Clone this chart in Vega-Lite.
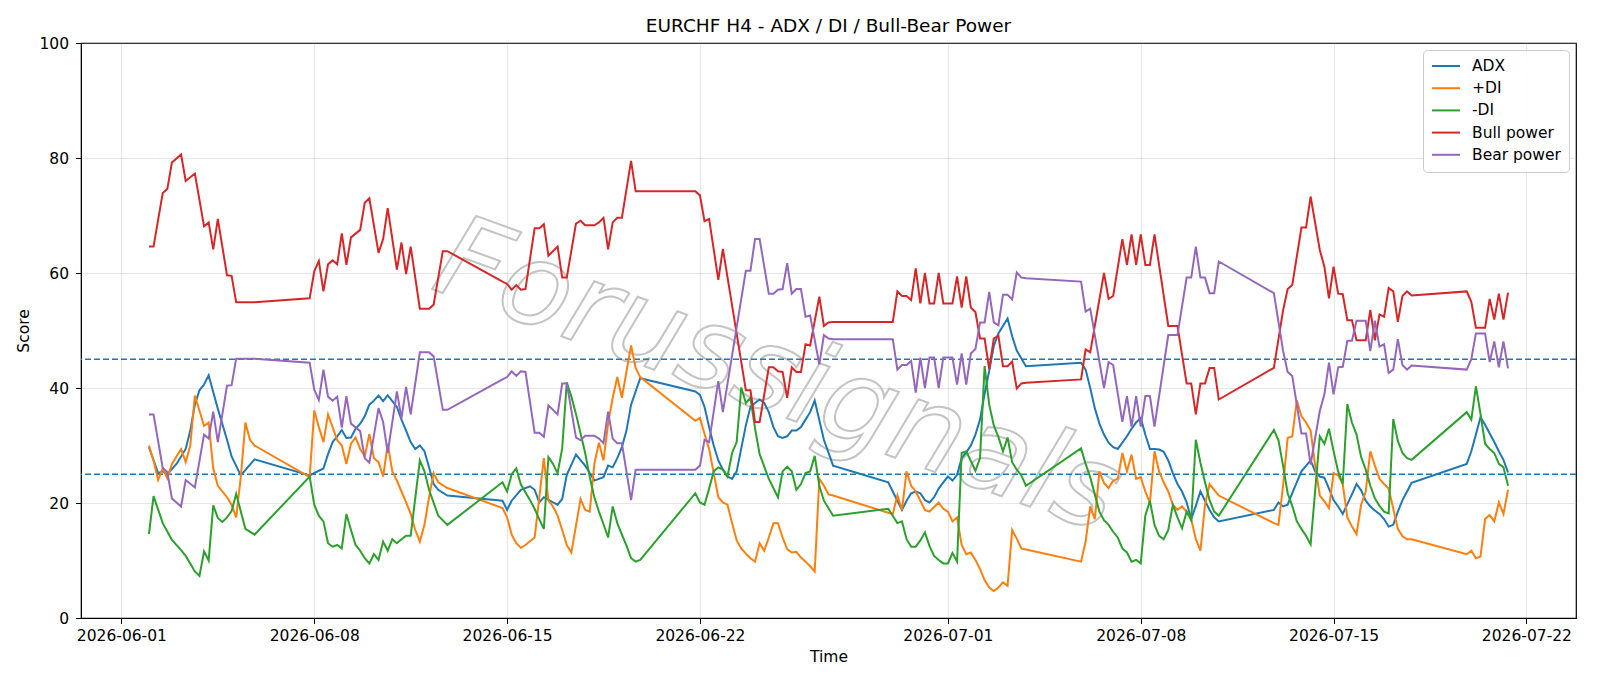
{
"$schema": "https://vega.github.io/schema/vega-lite/v6.json",
"width": 1495, "height": 575,
"autosize": {"type": "none"},
"padding": {"left": 81, "top": 43, "right": 24, "bottom": 68},
"background": "white",
"title": {"text": "EURCHF H4 - ADX / DI / Bull-Bear Power", "fontSize": 18.5, "font": "DejaVu Sans", "fontWeight": "normal", "color": "black", "offset": 1, "anchor": "middle"},
"config": {
 "font": "DejaVu Sans",
 "view": {"stroke": "black", "strokeWidth": 1.2},
 "axis": {"labelFont": "DejaVu Sans", "labelFontSize": 15.5, "labelColor": "black", "titleFont": "DejaVu Sans", "titleFontSize": 15.5, "titleFontWeight": "normal", "titleColor": "black", "tickColor": "black", "tickSize": 5.5, "domainColor": "black", "gridColor": "#b0b0b0", "gridOpacity": 0.3, "gridWidth": 1.2},
 "legend": {"orient": "top-right", "offset": 7, "fillColor": "rgba(255,255,255,0.85)", "strokeColor": "#cccccc", "cornerRadius": 4, "padding": 8, "symbolType": "M-1,0H3", "symbolSize": 196, "symbolStrokeWidth": 2, "labelFont": "DejaVu Sans", "labelFontSize": 15.5, "labelColor": "black", "labelOffset": 25, "rowPadding": 5.2}
},
"datasets": {
"adx": [
{"t":"2026-06-02T00:00","v":29.7},{"t":"2026-06-02T08:00","v":25.2},{"t":"2026-06-02T12:00","v":25.5},{"t":"2026-06-02T16:00","v":25.0},{"t":"2026-06-03T00:00","v":26.8},{"t":"2026-06-03T08:00","v":29.4},{"t":"2026-06-03T12:00","v":32.6},{"t":"2026-06-03T16:00","v":37.1},{"t":"2026-06-03T20:00","v":39.6},{"t":"2026-06-04T00:00","v":40.6},{"t":"2026-06-04T04:00","v":42.2},{"t":"2026-06-04T12:00","v":36.4},{"t":"2026-06-04T20:00","v":31.0},{"t":"2026-06-05T00:00","v":28.1},{"t":"2026-06-05T08:00","v":24.8},{"t":"2026-06-05T20:00","v":27.6},
{"t":"2026-06-07T20:00","v":24.8},{"t":"2026-06-08T08:00","v":26.0},{"t":"2026-06-08T12:00","v":28.5},{"t":"2026-06-08T16:00","v":30.6},{"t":"2026-06-08T20:00","v":31.6},{"t":"2026-06-09T00:00","v":32.7},{"t":"2026-06-09T04:00","v":31.3},{"t":"2026-06-09T08:00","v":31.4},{"t":"2026-06-09T12:00","v":32.9},{"t":"2026-06-09T16:00","v":33.8},{"t":"2026-06-09T20:00","v":35.1},{"t":"2026-06-10T00:00","v":37.1},{"t":"2026-06-10T04:00","v":37.8},{"t":"2026-06-10T08:00","v":38.7},{"t":"2026-06-10T12:00","v":37.7},{"t":"2026-06-10T16:00","v":38.7},{"t":"2026-06-10T20:00","v":37.7},{"t":"2026-06-11T00:00","v":36.7},{"t":"2026-06-11T04:00","v":34.5},{"t":"2026-06-11T08:00","v":32.6},{"t":"2026-06-11T12:00","v":30.6},{"t":"2026-06-11T16:00","v":29.4},{"t":"2026-06-11T20:00","v":30.0},{"t":"2026-06-12T00:00","v":29.0},{"t":"2026-06-12T04:00","v":26.2},{"t":"2026-06-12T08:00","v":23.3},{"t":"2026-06-12T12:00","v":22.3},{"t":"2026-06-12T20:00","v":21.3},
{"t":"2026-06-14T20:00","v":20.4},{"t":"2026-06-15T00:00","v":18.8},{"t":"2026-06-15T04:00","v":20.4},{"t":"2026-06-15T12:00","v":22.3},{"t":"2026-06-15T20:00","v":22.9},{"t":"2026-06-16T00:00","v":22.3},{"t":"2026-06-16T04:00","v":20.1},{"t":"2026-06-16T08:00","v":21.0},{"t":"2026-06-16T16:00","v":20.1},{"t":"2026-06-16T20:00","v":19.7},{"t":"2026-06-17T00:00","v":20.7},{"t":"2026-06-17T04:00","v":24.9},{"t":"2026-06-17T12:00","v":28.4},{"t":"2026-06-17T20:00","v":26.5},{"t":"2026-06-18T00:00","v":25.2},{"t":"2026-06-18T04:00","v":23.9},{"t":"2026-06-18T08:00","v":24.2},{"t":"2026-06-18T12:00","v":24.5},{"t":"2026-06-18T16:00","v":26.5},{"t":"2026-06-18T20:00","v":26.2},{"t":"2026-06-19T00:00","v":27.8},{"t":"2026-06-19T04:00","v":29.7},{"t":"2026-06-19T08:00","v":32.6},{"t":"2026-06-19T12:00","v":37.1},{"t":"2026-06-19T20:00","v":41.7},
{"t":"2026-06-21T20:00","v":39.4},{"t":"2026-06-22T00:00","v":38.8},{"t":"2026-06-22T04:00","v":36.7},{"t":"2026-06-22T08:00","v":33.2},{"t":"2026-06-22T12:00","v":30.0},{"t":"2026-06-22T16:00","v":27.4},{"t":"2026-06-22T20:00","v":25.8},{"t":"2026-06-23T00:00","v":24.6},{"t":"2026-06-23T04:00","v":24.2},{"t":"2026-06-23T08:00","v":25.5},{"t":"2026-06-23T12:00","v":29.5},{"t":"2026-06-23T16:00","v":33.5},{"t":"2026-06-23T20:00","v":36.7},{"t":"2026-06-24T00:00","v":37.4},{"t":"2026-06-24T04:00","v":38.0},{"t":"2026-06-24T08:00","v":37.4},{"t":"2026-06-24T12:00","v":35.8},{"t":"2026-06-24T16:00","v":33.2},{"t":"2026-06-24T20:00","v":31.6},{"t":"2026-06-25T00:00","v":31.3},{"t":"2026-06-25T04:00","v":31.6},{"t":"2026-06-25T08:00","v":32.6},{"t":"2026-06-25T12:00","v":32.6},{"t":"2026-06-25T16:00","v":33.2},{"t":"2026-06-25T20:00","v":34.5},{"t":"2026-06-26T00:00","v":35.8},{"t":"2026-06-26T04:00","v":37.8},{"t":"2026-06-26T12:00","v":31.0},{"t":"2026-06-26T20:00","v":26.5},
{"t":"2026-06-28T20:00","v":23.6},{"t":"2026-06-29T00:00","v":22.0},{"t":"2026-06-29T04:00","v":20.4},{"t":"2026-06-29T08:00","v":18.8},{"t":"2026-06-29T12:00","v":20.4},{"t":"2026-06-29T16:00","v":21.7},{"t":"2026-06-29T20:00","v":22.0},{"t":"2026-06-30T00:00","v":21.7},{"t":"2026-06-30T04:00","v":20.5},{"t":"2026-06-30T08:00","v":20.1},{"t":"2026-06-30T12:00","v":21.0},{"t":"2026-06-30T16:00","v":22.5},{"t":"2026-06-30T20:00","v":23.6},{"t":"2026-07-01T00:00","v":24.6},{"t":"2026-07-01T04:00","v":23.9},{"t":"2026-07-01T08:00","v":24.9},{"t":"2026-07-01T12:00","v":27.8},{"t":"2026-07-01T16:00","v":28.8},{"t":"2026-07-01T20:00","v":30.0},{"t":"2026-07-02T00:00","v":31.9},{"t":"2026-07-02T04:00","v":34.5},{"t":"2026-07-02T08:00","v":39.0},{"t":"2026-07-02T12:00","v":43.0},{"t":"2026-07-02T16:00","v":47.3},{"t":"2026-07-02T20:00","v":49.5},{"t":"2026-07-03T04:00","v":52.1},{"t":"2026-07-03T08:00","v":49.0},{"t":"2026-07-03T12:00","v":46.5},{"t":"2026-07-03T20:00","v":43.8},
{"t":"2026-07-05T20:00","v":44.4},{"t":"2026-07-06T00:00","v":43.2},{"t":"2026-07-06T04:00","v":40.0},{"t":"2026-07-06T08:00","v":36.5},{"t":"2026-07-06T12:00","v":33.8},{"t":"2026-07-06T16:00","v":31.9},{"t":"2026-07-06T20:00","v":30.5},{"t":"2026-07-07T00:00","v":29.7},{"t":"2026-07-07T04:00","v":29.4},{"t":"2026-07-07T08:00","v":30.5},{"t":"2026-07-07T12:00","v":31.6},{"t":"2026-07-07T16:00","v":32.9},{"t":"2026-07-07T20:00","v":34.0},{"t":"2026-07-08T00:00","v":34.8},{"t":"2026-07-08T04:00","v":31.9},{"t":"2026-07-08T08:00","v":29.4},{"t":"2026-07-08T12:00","v":29.4},{"t":"2026-07-08T16:00","v":29.3},{"t":"2026-07-08T20:00","v":28.9},{"t":"2026-07-09T00:00","v":27.4},{"t":"2026-07-09T04:00","v":25.2},{"t":"2026-07-09T08:00","v":23.3},{"t":"2026-07-09T12:00","v":22.0},{"t":"2026-07-09T16:00","v":20.1},{"t":"2026-07-09T20:00","v":17.2},{"t":"2026-07-10T00:00","v":19.5},{"t":"2026-07-10T04:00","v":22.0},{"t":"2026-07-10T08:00","v":20.4},{"t":"2026-07-10T12:00","v":18.8},{"t":"2026-07-10T16:00","v":17.5},{"t":"2026-07-10T20:00","v":16.8},
{"t":"2026-07-12T20:00","v":18.8},{"t":"2026-07-13T00:00","v":20.1},{"t":"2026-07-13T04:00","v":19.4},{"t":"2026-07-13T08:00","v":19.7},{"t":"2026-07-13T12:00","v":21.7},{"t":"2026-07-13T20:00","v":25.5},{"t":"2026-07-14T04:00","v":27.4},{"t":"2026-07-14T08:00","v":25.5},{"t":"2026-07-14T12:00","v":24.6},{"t":"2026-07-14T16:00","v":24.4},{"t":"2026-07-14T20:00","v":22.5},{"t":"2026-07-15T00:00","v":20.5},{"t":"2026-07-15T04:00","v":19.4},{"t":"2026-07-15T08:00","v":18.1},{"t":"2026-07-15T12:00","v":19.8},{"t":"2026-07-15T16:00","v":21.5},{"t":"2026-07-15T20:00","v":23.3},{"t":"2026-07-16T00:00","v":22.2},{"t":"2026-07-16T04:00","v":20.4},{"t":"2026-07-16T08:00","v":19.4},{"t":"2026-07-16T12:00","v":18.7},{"t":"2026-07-16T16:00","v":18.1},{"t":"2026-07-16T20:00","v":17.2},{"t":"2026-07-17T00:00","v":15.9},{"t":"2026-07-17T04:00","v":16.2},{"t":"2026-07-17T08:00","v":18.5},{"t":"2026-07-17T12:00","v":20.5},{"t":"2026-07-17T16:00","v":22.0},{"t":"2026-07-17T20:00","v":23.5},
{"t":"2026-07-19T20:00","v":26.8},{"t":"2026-07-20T00:00","v":29.0},{"t":"2026-07-20T04:00","v":31.9},{"t":"2026-07-20T08:00","v":34.9},{"t":"2026-07-20T12:00","v":33.6},{"t":"2026-07-20T16:00","v":32.1},{"t":"2026-07-20T20:00","v":30.6},{"t":"2026-07-21T00:00","v":29.0},{"t":"2026-07-21T04:00","v":27.5},{"t":"2026-07-21T08:00","v":25.3}
],
"pdi": [
{"t":"2026-06-02T00:00","v":30.0},{"t":"2026-06-02T04:00","v":27.4},{"t":"2026-06-02T08:00","v":24.0},{"t":"2026-06-02T12:00","v":26.0},{"t":"2026-06-02T16:00","v":24.3},{"t":"2026-06-02T20:00","v":26.8},{"t":"2026-06-03T00:00","v":28.1},{"t":"2026-06-03T04:00","v":29.4},{"t":"2026-06-03T08:00","v":27.1},{"t":"2026-06-03T12:00","v":30.0},{"t":"2026-06-03T16:00","v":38.7},{"t":"2026-06-04T00:00","v":33.4},{"t":"2026-06-04T04:00","v":34.0},{"t":"2026-06-04T08:00","v":26.0},{"t":"2026-06-04T12:00","v":23.0},{"t":"2026-06-04T20:00","v":21.0},{"t":"2026-06-05T00:00","v":19.7},{"t":"2026-06-05T04:00","v":17.5},{"t":"2026-06-05T08:00","v":24.5},{"t":"2026-06-05T12:00","v":34.0},{"t":"2026-06-05T16:00","v":31.0},{"t":"2026-06-05T20:00","v":30.0},
{"t":"2026-06-07T20:00","v":24.5},{"t":"2026-06-08T00:00","v":36.1},{"t":"2026-06-08T04:00","v":33.2},{"t":"2026-06-08T08:00","v":30.6},{"t":"2026-06-08T12:00","v":35.4},{"t":"2026-06-08T16:00","v":33.2},{"t":"2026-06-08T20:00","v":30.9},{"t":"2026-06-09T00:00","v":30.0},{"t":"2026-06-09T04:00","v":26.8},{"t":"2026-06-09T08:00","v":30.3},{"t":"2026-06-09T12:00","v":31.4},{"t":"2026-06-09T16:00","v":29.4},{"t":"2026-06-09T20:00","v":28.1},{"t":"2026-06-10T00:00","v":32.0},{"t":"2026-06-10T04:00","v":27.8},{"t":"2026-06-10T08:00","v":27.1},{"t":"2026-06-10T12:00","v":24.6},{"t":"2026-06-10T16:00","v":30.3},{"t":"2026-06-10T20:00","v":25.5},{"t":"2026-06-11T00:00","v":23.9},{"t":"2026-06-11T04:00","v":22.0},{"t":"2026-06-11T08:00","v":20.1},{"t":"2026-06-11T12:00","v":18.1},{"t":"2026-06-11T16:00","v":15.3},{"t":"2026-06-11T20:00","v":13.3},{"t":"2026-06-12T00:00","v":16.2},{"t":"2026-06-12T04:00","v":21.0},{"t":"2026-06-12T08:00","v":25.2},{"t":"2026-06-12T12:00","v":23.6},{"t":"2026-06-12T20:00","v":22.6},
{"t":"2026-06-14T20:00","v":19.1},{"t":"2026-06-15T00:00","v":17.5},{"t":"2026-06-15T04:00","v":14.5},{"t":"2026-06-15T08:00","v":13.0},{"t":"2026-06-15T12:00","v":12.2},{"t":"2026-06-15T16:00","v":12.7},{"t":"2026-06-16T00:00","v":14.0},{"t":"2026-06-16T08:00","v":27.8},{"t":"2026-06-16T12:00","v":20.4},{"t":"2026-06-16T16:00","v":19.4},{"t":"2026-06-16T20:00","v":17.8},{"t":"2026-06-17T00:00","v":15.3},{"t":"2026-06-17T04:00","v":12.7},{"t":"2026-06-17T08:00","v":11.4},{"t":"2026-06-17T16:00","v":20.7},{"t":"2026-06-17T20:00","v":18.8},{"t":"2026-06-18T00:00","v":18.5},{"t":"2026-06-18T04:00","v":26.8},{"t":"2026-06-18T08:00","v":30.5},{"t":"2026-06-18T12:00","v":27.4},{"t":"2026-06-18T16:00","v":33.8},{"t":"2026-06-18T20:00","v":38.3},{"t":"2026-06-19T00:00","v":41.9},{"t":"2026-06-19T04:00","v":38.3},{"t":"2026-06-19T12:00","v":47.4},{"t":"2026-06-19T16:00","v":43.5},{"t":"2026-06-19T20:00","v":41.9},
{"t":"2026-06-21T20:00","v":34.3},{"t":"2026-06-22T00:00","v":34.8},{"t":"2026-06-22T04:00","v":32.0},{"t":"2026-06-22T08:00","v":29.4},{"t":"2026-06-22T12:00","v":25.2},{"t":"2026-06-22T16:00","v":21.0},{"t":"2026-06-22T20:00","v":20.1},{"t":"2026-06-23T00:00","v":19.7},{"t":"2026-06-23T04:00","v":16.5},{"t":"2026-06-23T08:00","v":13.5},{"t":"2026-06-23T12:00","v":12.1},{"t":"2026-06-23T16:00","v":11.2},{"t":"2026-06-23T20:00","v":10.4},{"t":"2026-06-24T00:00","v":9.8},{"t":"2026-06-24T04:00","v":13.0},{"t":"2026-06-24T08:00","v":11.7},{"t":"2026-06-24T12:00","v":14.0},{"t":"2026-06-24T16:00","v":16.5},{"t":"2026-06-24T20:00","v":16.5},{"t":"2026-06-25T00:00","v":14.0},{"t":"2026-06-25T04:00","v":12.0},{"t":"2026-06-25T08:00","v":11.4},{"t":"2026-06-25T12:00","v":11.5},{"t":"2026-06-25T16:00","v":10.5},{"t":"2026-06-25T20:00","v":9.8},{"t":"2026-06-26T00:00","v":9.0},{"t":"2026-06-26T04:00","v":8.1},{"t":"2026-06-26T08:00","v":24.2},{"t":"2026-06-26T12:00","v":23.0},{"t":"2026-06-26T16:00","v":21.5},{"t":"2026-06-26T20:00","v":21.3},
{"t":"2026-06-28T20:00","v":18.3},{"t":"2026-06-29T00:00","v":18.1},{"t":"2026-06-29T04:00","v":21.3},{"t":"2026-06-29T08:00","v":18.8},{"t":"2026-06-29T12:00","v":25.5},{"t":"2026-06-29T16:00","v":23.0},{"t":"2026-06-29T20:00","v":22.0},{"t":"2026-06-30T00:00","v":20.4},{"t":"2026-06-30T04:00","v":18.8},{"t":"2026-06-30T08:00","v":18.5},{"t":"2026-06-30T12:00","v":19.3},{"t":"2026-06-30T16:00","v":20.1},{"t":"2026-06-30T20:00","v":19.0},{"t":"2026-07-01T00:00","v":18.5},{"t":"2026-07-01T04:00","v":16.8},{"t":"2026-07-01T08:00","v":17.5},{"t":"2026-07-01T12:00","v":12.7},{"t":"2026-07-01T16:00","v":11.1},{"t":"2026-07-01T20:00","v":11.4},{"t":"2026-07-02T00:00","v":10.1},{"t":"2026-07-02T04:00","v":8.5},{"t":"2026-07-02T08:00","v":6.6},{"t":"2026-07-02T12:00","v":5.3},{"t":"2026-07-02T16:00","v":4.7},{"t":"2026-07-02T20:00","v":5.3},{"t":"2026-07-03T00:00","v":6.2},{"t":"2026-07-03T04:00","v":5.6},{"t":"2026-07-03T08:00","v":15.3},{"t":"2026-07-03T12:00","v":13.8},{"t":"2026-07-03T16:00","v":12.1},{"t":"2026-07-03T20:00","v":11.9},
{"t":"2026-07-05T20:00","v":9.8},{"t":"2026-07-06T00:00","v":13.3},{"t":"2026-07-06T04:00","v":19.4},{"t":"2026-07-06T08:00","v":17.2},{"t":"2026-07-06T12:00","v":25.5},{"t":"2026-07-06T16:00","v":23.5},{"t":"2026-07-06T20:00","v":22.6},{"t":"2026-07-07T00:00","v":23.9},{"t":"2026-07-07T04:00","v":24.2},{"t":"2026-07-07T08:00","v":28.7},{"t":"2026-07-07T12:00","v":25.5},{"t":"2026-07-07T16:00","v":28.4},{"t":"2026-07-07T20:00","v":24.2},{"t":"2026-07-08T00:00","v":24.5},{"t":"2026-07-08T04:00","v":22.0},{"t":"2026-07-08T08:00","v":20.0},{"t":"2026-07-08T12:00","v":29.0},{"t":"2026-07-08T16:00","v":25.5},{"t":"2026-07-08T20:00","v":23.6},{"t":"2026-07-09T00:00","v":22.0},{"t":"2026-07-09T04:00","v":19.7},{"t":"2026-07-09T08:00","v":18.8},{"t":"2026-07-09T12:00","v":19.4},{"t":"2026-07-09T16:00","v":18.5},{"t":"2026-07-09T20:00","v":17.2},{"t":"2026-07-10T00:00","v":13.7},{"t":"2026-07-10T04:00","v":11.7},{"t":"2026-07-10T08:00","v":19.7},{"t":"2026-07-10T12:00","v":23.3},{"t":"2026-07-10T16:00","v":22.3},{"t":"2026-07-10T20:00","v":21.3},
{"t":"2026-07-12T20:00","v":16.5},{"t":"2026-07-13T00:00","v":16.2},{"t":"2026-07-13T04:00","v":23.0},{"t":"2026-07-13T08:00","v":31.3},{"t":"2026-07-13T12:00","v":31.6},{"t":"2026-07-13T16:00","v":37.8},{"t":"2026-07-13T20:00","v":35.1},{"t":"2026-07-14T00:00","v":34.0},{"t":"2026-07-14T04:00","v":32.6},{"t":"2026-07-14T08:00","v":26.5},{"t":"2026-07-14T12:00","v":21.3},{"t":"2026-07-14T16:00","v":20.3},{"t":"2026-07-14T20:00","v":19.1},{"t":"2026-07-15T00:00","v":25.2},{"t":"2026-07-15T04:00","v":24.8},{"t":"2026-07-15T08:00","v":23.3},{"t":"2026-07-15T12:00","v":17.5},{"t":"2026-07-15T16:00","v":15.9},{"t":"2026-07-15T20:00","v":14.6},{"t":"2026-07-16T00:00","v":19.7},{"t":"2026-07-16T04:00","v":22.0},{"t":"2026-07-16T08:00","v":29.0},{"t":"2026-07-16T12:00","v":26.5},{"t":"2026-07-16T16:00","v":24.2},{"t":"2026-07-16T20:00","v":23.3},{"t":"2026-07-17T00:00","v":22.5},{"t":"2026-07-17T04:00","v":19.0},{"t":"2026-07-17T08:00","v":15.5},{"t":"2026-07-17T12:00","v":14.2},{"t":"2026-07-17T16:00","v":13.7},{"t":"2026-07-17T20:00","v":13.7},
{"t":"2026-07-19T20:00","v":11.1},{"t":"2026-07-20T00:00","v":11.7},{"t":"2026-07-20T04:00","v":10.4},{"t":"2026-07-20T08:00","v":10.7},{"t":"2026-07-20T12:00","v":17.2},{"t":"2026-07-20T16:00","v":17.9},{"t":"2026-07-20T20:00","v":16.8},{"t":"2026-07-21T00:00","v":20.1},{"t":"2026-07-21T04:00","v":18.1},{"t":"2026-07-21T08:00","v":22.3}
],
"mdi": [
{"t":"2026-06-02T00:00","v":14.6},{"t":"2026-06-02T04:00","v":21.2},{"t":"2026-06-02T12:00","v":16.5},{"t":"2026-06-02T20:00","v":13.6},{"t":"2026-06-03T04:00","v":11.8},{"t":"2026-06-03T08:00","v":10.8},{"t":"2026-06-03T16:00","v":8.1},{"t":"2026-06-03T20:00","v":7.3},{"t":"2026-06-04T00:00","v":11.6},{"t":"2026-06-04T04:00","v":10.0},{"t":"2026-06-04T08:00","v":19.6},{"t":"2026-06-04T12:00","v":17.4},{"t":"2026-06-04T16:00","v":16.7},{"t":"2026-06-04T20:00","v":17.5},{"t":"2026-06-05T00:00","v":18.6},{"t":"2026-06-05T04:00","v":21.6},{"t":"2026-06-05T12:00","v":15.5},{"t":"2026-06-05T20:00","v":14.5},
{"t":"2026-06-07T20:00","v":24.6},{"t":"2026-06-08T00:00","v":19.7},{"t":"2026-06-08T04:00","v":17.8},{"t":"2026-06-08T08:00","v":16.8},{"t":"2026-06-08T12:00","v":13.0},{"t":"2026-06-08T16:00","v":12.4},{"t":"2026-06-08T20:00","v":12.7},{"t":"2026-06-09T00:00","v":12.1},{"t":"2026-06-09T04:00","v":18.1},{"t":"2026-06-09T08:00","v":15.3},{"t":"2026-06-09T12:00","v":12.7},{"t":"2026-06-09T16:00","v":11.7},{"t":"2026-06-09T20:00","v":10.4},{"t":"2026-06-10T00:00","v":9.5},{"t":"2026-06-10T04:00","v":11.1},{"t":"2026-06-10T08:00","v":10.1},{"t":"2026-06-10T12:00","v":13.3},{"t":"2026-06-10T16:00","v":11.7},{"t":"2026-06-10T20:00","v":13.7},{"t":"2026-06-11T00:00","v":13.0},{"t":"2026-06-11T04:00","v":13.7},{"t":"2026-06-11T08:00","v":14.3},{"t":"2026-06-11T12:00","v":14.3},{"t":"2026-06-11T20:00","v":27.4},{"t":"2026-06-12T00:00","v":25.5},{"t":"2026-06-12T04:00","v":22.3},{"t":"2026-06-12T12:00","v":17.8},{"t":"2026-06-12T20:00","v":16.2},
{"t":"2026-06-14T20:00","v":23.6},{"t":"2026-06-15T00:00","v":22.0},{"t":"2026-06-15T04:00","v":25.0},{"t":"2026-06-15T08:00","v":26.0},{"t":"2026-06-15T12:00","v":23.2},{"t":"2026-06-15T20:00","v":20.5},{"t":"2026-06-16T00:00","v":19.0},{"t":"2026-06-16T04:00","v":17.2},{"t":"2026-06-16T08:00","v":15.5},{"t":"2026-06-16T12:00","v":28.0},{"t":"2026-06-16T16:00","v":26.8},{"t":"2026-06-16T20:00","v":25.2},{"t":"2026-06-17T00:00","v":29.5},{"t":"2026-06-17T04:00","v":41.0},{"t":"2026-06-17T08:00","v":38.5},{"t":"2026-06-17T12:00","v":35.5},{"t":"2026-06-17T20:00","v":28.7},{"t":"2026-06-18T00:00","v":24.5},{"t":"2026-06-18T04:00","v":21.0},{"t":"2026-06-18T08:00","v":18.5},{"t":"2026-06-18T12:00","v":16.3},{"t":"2026-06-18T16:00","v":14.0},{"t":"2026-06-18T20:00","v":19.4},{"t":"2026-06-19T00:00","v":16.5},{"t":"2026-06-19T04:00","v":14.5},{"t":"2026-06-19T08:00","v":12.6},{"t":"2026-06-19T12:00","v":10.4},{"t":"2026-06-19T16:00","v":9.8},{"t":"2026-06-19T20:00","v":10.1},
{"t":"2026-06-21T20:00","v":21.7},{"t":"2026-06-22T00:00","v":20.1},{"t":"2026-06-22T04:00","v":19.7},{"t":"2026-06-22T08:00","v":22.5},{"t":"2026-06-22T12:00","v":25.5},{"t":"2026-06-22T16:00","v":26.2},{"t":"2026-06-22T20:00","v":25.8},{"t":"2026-06-23T00:00","v":24.6},{"t":"2026-06-23T04:00","v":28.7},{"t":"2026-06-23T08:00","v":30.6},{"t":"2026-06-23T12:00","v":40.1},{"t":"2026-06-23T16:00","v":37.4},{"t":"2026-06-23T20:00","v":38.3},{"t":"2026-06-24T00:00","v":33.0},{"t":"2026-06-24T04:00","v":28.5},{"t":"2026-06-24T12:00","v":24.2},{"t":"2026-06-24T20:00","v":21.0},{"t":"2026-06-25T00:00","v":25.5},{"t":"2026-06-25T04:00","v":26.3},{"t":"2026-06-25T08:00","v":25.5},{"t":"2026-06-25T12:00","v":22.3},{"t":"2026-06-25T16:00","v":23.3},{"t":"2026-06-25T20:00","v":25.2},{"t":"2026-06-26T00:00","v":25.5},{"t":"2026-06-26T04:00","v":28.2},{"t":"2026-06-26T08:00","v":23.0},{"t":"2026-06-26T12:00","v":20.4},{"t":"2026-06-26T20:00","v":17.8},
{"t":"2026-06-28T20:00","v":19.0},{"t":"2026-06-29T04:00","v":16.5},{"t":"2026-06-29T08:00","v":16.8},{"t":"2026-06-29T12:00","v":13.7},{"t":"2026-06-29T16:00","v":12.4},{"t":"2026-06-29T20:00","v":12.4},{"t":"2026-06-30T00:00","v":13.5},{"t":"2026-06-30T04:00","v":14.9},{"t":"2026-06-30T08:00","v":12.5},{"t":"2026-06-30T12:00","v":10.8},{"t":"2026-06-30T16:00","v":10.1},{"t":"2026-06-30T20:00","v":9.5},{"t":"2026-07-01T00:00","v":9.5},{"t":"2026-07-01T04:00","v":11.3},{"t":"2026-07-01T08:00","v":9.8},{"t":"2026-07-01T12:00","v":28.7},{"t":"2026-07-01T16:00","v":29.0},{"t":"2026-07-01T20:00","v":27.3},{"t":"2026-07-02T00:00","v":25.6},{"t":"2026-07-02T04:00","v":27.8},{"t":"2026-07-02T08:00","v":43.8},{"t":"2026-07-02T12:00","v":37.1},{"t":"2026-07-02T16:00","v":33.5},{"t":"2026-07-02T20:00","v":31.5},{"t":"2026-07-03T00:00","v":29.0},{"t":"2026-07-03T04:00","v":31.4},{"t":"2026-07-03T08:00","v":27.1},{"t":"2026-07-03T12:00","v":25.8},{"t":"2026-07-03T16:00","v":24.8},{"t":"2026-07-03T20:00","v":23.0},
{"t":"2026-07-05T20:00","v":29.5},{"t":"2026-07-06T00:00","v":26.8},{"t":"2026-07-06T04:00","v":24.5},{"t":"2026-07-06T08:00","v":21.5},{"t":"2026-07-06T12:00","v":18.5},{"t":"2026-07-06T16:00","v":17.0},{"t":"2026-07-06T20:00","v":16.2},{"t":"2026-07-07T00:00","v":15.0},{"t":"2026-07-07T04:00","v":14.0},{"t":"2026-07-07T08:00","v":12.1},{"t":"2026-07-07T12:00","v":11.4},{"t":"2026-07-07T16:00","v":9.8},{"t":"2026-07-07T20:00","v":10.1},{"t":"2026-07-08T00:00","v":9.5},{"t":"2026-07-08T04:00","v":17.8},{"t":"2026-07-08T08:00","v":20.4},{"t":"2026-07-08T12:00","v":16.2},{"t":"2026-07-08T16:00","v":14.3},{"t":"2026-07-08T20:00","v":13.7},{"t":"2026-07-09T00:00","v":15.3},{"t":"2026-07-09T04:00","v":19.7},{"t":"2026-07-09T08:00","v":17.5},{"t":"2026-07-09T12:00","v":15.6},{"t":"2026-07-09T16:00","v":18.5},{"t":"2026-07-09T20:00","v":17.0},{"t":"2026-07-10T00:00","v":31.0},{"t":"2026-07-10T04:00","v":27.0},{"t":"2026-07-10T08:00","v":23.6},{"t":"2026-07-10T12:00","v":20.5},{"t":"2026-07-10T16:00","v":18.5},{"t":"2026-07-10T20:00","v":17.8},
{"t":"2026-07-12T20:00","v":32.7},{"t":"2026-07-13T00:00","v":30.9},{"t":"2026-07-13T04:00","v":26.5},{"t":"2026-07-13T08:00","v":21.7},{"t":"2026-07-13T12:00","v":19.5},{"t":"2026-07-13T16:00","v":16.8},{"t":"2026-07-13T20:00","v":15.5},{"t":"2026-07-14T00:00","v":14.3},{"t":"2026-07-14T04:00","v":12.8},{"t":"2026-07-14T12:00","v":31.6},{"t":"2026-07-14T16:00","v":30.3},{"t":"2026-07-14T20:00","v":32.9},{"t":"2026-07-15T00:00","v":29.0},{"t":"2026-07-15T04:00","v":25.5},{"t":"2026-07-15T08:00","v":23.3},{"t":"2026-07-15T12:00","v":37.2},{"t":"2026-07-15T16:00","v":34.0},{"t":"2026-07-15T20:00","v":31.9},{"t":"2026-07-16T00:00","v":28.0},{"t":"2026-07-16T04:00","v":25.8},{"t":"2026-07-16T08:00","v":23.0},{"t":"2026-07-16T12:00","v":20.8},{"t":"2026-07-16T16:00","v":19.5},{"t":"2026-07-16T20:00","v":18.5},{"t":"2026-07-17T00:00","v":18.2},{"t":"2026-07-17T04:00","v":34.6},{"t":"2026-07-17T08:00","v":30.8},{"t":"2026-07-17T12:00","v":28.7},{"t":"2026-07-17T16:00","v":27.8},{"t":"2026-07-17T20:00","v":27.5},
{"t":"2026-07-19T20:00","v":35.8},{"t":"2026-07-20T00:00","v":34.5},{"t":"2026-07-20T04:00","v":40.3},{"t":"2026-07-20T08:00","v":35.5},{"t":"2026-07-20T12:00","v":30.3},{"t":"2026-07-20T16:00","v":29.4},{"t":"2026-07-20T20:00","v":28.7},{"t":"2026-07-21T00:00","v":26.8},{"t":"2026-07-21T04:00","v":26.2},{"t":"2026-07-21T08:00","v":23.0}
],
"bull": [
{"t":"2026-06-02T00:00","v":64.6},{"t":"2026-06-02T04:00","v":64.6},{"t":"2026-06-02T12:00","v":73.9},{"t":"2026-06-02T16:00","v":74.6},{"t":"2026-06-02T20:00","v":79.2},{"t":"2026-06-03T04:00","v":80.6},{"t":"2026-06-03T08:00","v":76.0},{"t":"2026-06-03T16:00","v":77.3},{"t":"2026-06-04T00:00","v":68.1},{"t":"2026-06-04T04:00","v":68.8},{"t":"2026-06-04T08:00","v":64.1},{"t":"2026-06-04T12:00","v":69.4},{"t":"2026-06-04T20:00","v":59.6},{"t":"2026-06-05T00:00","v":59.5},{"t":"2026-06-05T04:00","v":54.9},{"t":"2026-06-05T20:00","v":54.9},
{"t":"2026-06-07T20:00","v":55.6},{"t":"2026-06-08T00:00","v":60.3},{"t":"2026-06-08T04:00","v":62.1},{"t":"2026-06-08T08:00","v":56.8},{"t":"2026-06-08T12:00","v":61.5},{"t":"2026-06-08T16:00","v":62.2},{"t":"2026-06-08T20:00","v":61.5},{"t":"2026-06-09T00:00","v":66.9},{"t":"2026-06-09T04:00","v":61.4},{"t":"2026-06-09T08:00","v":66.2},{"t":"2026-06-09T16:00","v":67.5},{"t":"2026-06-09T20:00","v":72.2},{"t":"2026-06-10T00:00","v":73.0},{"t":"2026-06-10T08:00","v":63.5},{"t":"2026-06-10T12:00","v":65.9},{"t":"2026-06-10T16:00","v":71.3},{"t":"2026-06-11T00:00","v":60.6},{"t":"2026-06-11T04:00","v":65.3},{"t":"2026-06-11T08:00","v":59.8},{"t":"2026-06-11T12:00","v":64.6},{"t":"2026-06-11T20:00","v":53.8},{"t":"2026-06-12T04:00","v":53.8},{"t":"2026-06-12T08:00","v":54.5},{"t":"2026-06-12T16:00","v":63.8},{"t":"2026-06-12T20:00","v":63.8},
{"t":"2026-06-14T20:00","v":58.5},{"t":"2026-06-15T00:00","v":58.1},{"t":"2026-06-15T04:00","v":57.1},{"t":"2026-06-15T08:00","v":57.9},{"t":"2026-06-15T12:00","v":57.1},{"t":"2026-06-15T16:00","v":57.2},{"t":"2026-06-16T00:00","v":67.8},{"t":"2026-06-16T04:00","v":67.8},{"t":"2026-06-16T08:00","v":68.5},{"t":"2026-06-16T12:00","v":63.0},{"t":"2026-06-16T20:00","v":64.6},{"t":"2026-06-17T00:00","v":59.2},{"t":"2026-06-17T04:00","v":59.2},{"t":"2026-06-17T12:00","v":68.6},{"t":"2026-06-17T16:00","v":69.1},{"t":"2026-06-17T20:00","v":68.3},{"t":"2026-06-18T04:00","v":68.3},{"t":"2026-06-18T08:00","v":68.8},{"t":"2026-06-18T12:00","v":69.6},{"t":"2026-06-18T16:00","v":64.1},{"t":"2026-06-18T20:00","v":68.8},{"t":"2026-06-19T00:00","v":69.6},{"t":"2026-06-19T04:00","v":69.6},{"t":"2026-06-19T12:00","v":79.5},{"t":"2026-06-19T16:00","v":74.2},{"t":"2026-06-19T20:00","v":74.2},
{"t":"2026-06-21T20:00","v":74.2},{"t":"2026-06-22T00:00","v":73.5},{"t":"2026-06-22T04:00","v":69.0},{"t":"2026-06-22T08:00","v":69.4},{"t":"2026-06-22T16:00","v":58.8},{"t":"2026-06-22T20:00","v":64.2},{"t":"2026-06-23T16:00","v":39.6},{"t":"2026-06-23T20:00","v":39.6},{"t":"2026-06-24T00:00","v":34.1},{"t":"2026-06-24T04:00","v":34.1},{"t":"2026-06-24T12:00","v":43.6},{"t":"2026-06-24T16:00","v":43.6},{"t":"2026-06-24T20:00","v":42.9},{"t":"2026-06-25T00:00","v":42.8},{"t":"2026-06-25T04:00","v":38.3},{"t":"2026-06-25T08:00","v":43.6},{"t":"2026-06-25T12:00","v":42.8},{"t":"2026-06-25T16:00","v":42.8},{"t":"2026-06-25T20:00","v":47.6},{"t":"2026-06-26T00:00","v":47.4},{"t":"2026-06-26T08:00","v":55.9},{"t":"2026-06-26T12:00","v":50.8},{"t":"2026-06-26T16:00","v":51.4},{"t":"2026-06-26T20:00","v":51.5},
{"t":"2026-06-28T20:00","v":51.5},{"t":"2026-06-29T00:00","v":51.5},{"t":"2026-06-29T04:00","v":56.8},{"t":"2026-06-29T08:00","v":56.0},{"t":"2026-06-29T12:00","v":56.0},{"t":"2026-06-29T16:00","v":55.3},{"t":"2026-06-29T20:00","v":60.8},{"t":"2026-06-30T00:00","v":54.7},{"t":"2026-06-30T04:00","v":60.0},{"t":"2026-06-30T08:00","v":54.7},{"t":"2026-06-30T12:00","v":54.7},{"t":"2026-06-30T16:00","v":60.0},{"t":"2026-06-30T20:00","v":54.7},{"t":"2026-07-01T04:00","v":54.7},{"t":"2026-07-01T08:00","v":59.4},{"t":"2026-07-01T12:00","v":54.0},{"t":"2026-07-01T16:00","v":59.4},{"t":"2026-07-01T20:00","v":54.0},{"t":"2026-07-02T00:00","v":53.2},{"t":"2026-07-02T04:00","v":48.6},{"t":"2026-07-02T08:00","v":48.6},{"t":"2026-07-02T12:00","v":43.3},{"t":"2026-07-02T16:00","v":48.6},{"t":"2026-07-02T20:00","v":49.1},{"t":"2026-07-03T00:00","v":43.8},{"t":"2026-07-03T04:00","v":43.8},{"t":"2026-07-03T08:00","v":44.6},{"t":"2026-07-03T12:00","v":39.9},{"t":"2026-07-03T16:00","v":40.8},{"t":"2026-07-03T20:00","v":40.9},
{"t":"2026-07-05T20:00","v":41.5},{"t":"2026-07-06T00:00","v":46.7},{"t":"2026-07-06T04:00","v":46.2},{"t":"2026-07-06T16:00","v":60.0},{"t":"2026-07-06T20:00","v":55.5},{"t":"2026-07-07T00:00","v":56.0},{"t":"2026-07-07T08:00","v":65.9},{"t":"2026-07-07T12:00","v":61.4},{"t":"2026-07-07T16:00","v":66.7},{"t":"2026-07-07T20:00","v":61.4},{"t":"2026-07-08T00:00","v":66.7},{"t":"2026-07-08T04:00","v":61.4},{"t":"2026-07-08T08:00","v":61.4},{"t":"2026-07-08T12:00","v":66.7},{"t":"2026-07-09T00:00","v":50.8},{"t":"2026-07-09T04:00","v":50.8},{"t":"2026-07-09T08:00","v":50.8},{"t":"2026-07-09T16:00","v":40.8},{"t":"2026-07-09T20:00","v":40.8},{"t":"2026-07-10T00:00","v":35.4},{"t":"2026-07-10T04:00","v":40.8},{"t":"2026-07-10T08:00","v":40.8},{"t":"2026-07-10T12:00","v":43.5},{"t":"2026-07-10T16:00","v":43.5},{"t":"2026-07-10T20:00","v":38.0},
{"t":"2026-07-12T20:00","v":43.5},{"t":"2026-07-13T04:00","v":53.5},{"t":"2026-07-13T08:00","v":57.2},{"t":"2026-07-13T12:00","v":57.9},{"t":"2026-07-13T20:00","v":67.9},{"t":"2026-07-14T00:00","v":67.9},{"t":"2026-07-14T04:00","v":73.3},{"t":"2026-07-14T12:00","v":64.0},{"t":"2026-07-14T16:00","v":61.1},{"t":"2026-07-14T20:00","v":55.6},{"t":"2026-07-15T00:00","v":61.1},{"t":"2026-07-15T04:00","v":56.4},{"t":"2026-07-15T08:00","v":56.3},{"t":"2026-07-15T12:00","v":51.8},{"t":"2026-07-15T16:00","v":51.8},{"t":"2026-07-15T20:00","v":48.3},{"t":"2026-07-16T04:00","v":48.3},{"t":"2026-07-16T08:00","v":53.6},{"t":"2026-07-16T12:00","v":48.3},{"t":"2026-07-16T16:00","v":52.8},{"t":"2026-07-16T20:00","v":52.4},{"t":"2026-07-17T00:00","v":57.4},{"t":"2026-07-17T04:00","v":56.8},{"t":"2026-07-17T08:00","v":51.5},{"t":"2026-07-17T12:00","v":56.0},{"t":"2026-07-17T16:00","v":56.8},{"t":"2026-07-17T20:00","v":56.1},
{"t":"2026-07-19T20:00","v":56.8},{"t":"2026-07-20T00:00","v":55.0},{"t":"2026-07-20T04:00","v":50.5},{"t":"2026-07-20T12:00","v":50.5},{"t":"2026-07-20T16:00","v":55.5},{"t":"2026-07-20T20:00","v":51.9},{"t":"2026-07-21T00:00","v":56.4},{"t":"2026-07-21T04:00","v":51.9},{"t":"2026-07-21T08:00","v":56.6}
],
"bear": [
{"t":"2026-06-02T00:00","v":35.4},{"t":"2026-06-02T04:00","v":35.4},{"t":"2026-06-02T12:00","v":26.1},{"t":"2026-06-02T16:00","v":25.4},{"t":"2026-06-02T20:00","v":20.8},{"t":"2026-06-03T04:00","v":19.4},{"t":"2026-06-03T08:00","v":24.0},{"t":"2026-06-03T16:00","v":22.7},{"t":"2026-06-04T00:00","v":31.9},{"t":"2026-06-04T04:00","v":31.2},{"t":"2026-06-04T08:00","v":35.9},{"t":"2026-06-04T12:00","v":30.6},{"t":"2026-06-04T20:00","v":40.4},{"t":"2026-06-05T00:00","v":40.5},{"t":"2026-06-05T04:00","v":45.1},{"t":"2026-06-05T20:00","v":45.1},
{"t":"2026-06-07T20:00","v":44.4},{"t":"2026-06-08T00:00","v":39.7},{"t":"2026-06-08T04:00","v":37.9},{"t":"2026-06-08T08:00","v":43.2},{"t":"2026-06-08T12:00","v":38.5},{"t":"2026-06-08T16:00","v":37.8},{"t":"2026-06-08T20:00","v":38.5},{"t":"2026-06-09T00:00","v":33.1},{"t":"2026-06-09T04:00","v":38.6},{"t":"2026-06-09T08:00","v":33.8},{"t":"2026-06-09T16:00","v":32.5},{"t":"2026-06-09T20:00","v":27.8},{"t":"2026-06-10T00:00","v":27.0},{"t":"2026-06-10T08:00","v":36.5},{"t":"2026-06-10T12:00","v":34.1},{"t":"2026-06-10T16:00","v":28.7},{"t":"2026-06-11T00:00","v":39.4},{"t":"2026-06-11T04:00","v":34.7},{"t":"2026-06-11T08:00","v":40.2},{"t":"2026-06-11T12:00","v":35.4},{"t":"2026-06-11T20:00","v":46.2},{"t":"2026-06-12T04:00","v":46.2},{"t":"2026-06-12T08:00","v":45.5},{"t":"2026-06-12T16:00","v":36.2},{"t":"2026-06-12T20:00","v":36.2},
{"t":"2026-06-14T20:00","v":41.5},{"t":"2026-06-15T00:00","v":41.9},{"t":"2026-06-15T04:00","v":42.9},{"t":"2026-06-15T08:00","v":42.1},{"t":"2026-06-15T12:00","v":42.9},{"t":"2026-06-15T16:00","v":42.8},{"t":"2026-06-16T00:00","v":32.2},{"t":"2026-06-16T04:00","v":32.2},{"t":"2026-06-16T08:00","v":31.5},{"t":"2026-06-16T12:00","v":37.0},{"t":"2026-06-16T20:00","v":35.4},{"t":"2026-06-17T00:00","v":40.8},{"t":"2026-06-17T04:00","v":40.8},{"t":"2026-06-17T12:00","v":31.4},{"t":"2026-06-17T16:00","v":30.9},{"t":"2026-06-17T20:00","v":31.7},{"t":"2026-06-18T04:00","v":31.7},{"t":"2026-06-18T08:00","v":31.2},{"t":"2026-06-18T12:00","v":30.4},{"t":"2026-06-18T16:00","v":35.9},{"t":"2026-06-18T20:00","v":31.2},{"t":"2026-06-19T00:00","v":30.4},{"t":"2026-06-19T04:00","v":30.4},{"t":"2026-06-19T12:00","v":20.5},{"t":"2026-06-19T16:00","v":25.8},{"t":"2026-06-19T20:00","v":25.8},
{"t":"2026-06-21T20:00","v":25.8},{"t":"2026-06-22T00:00","v":26.5},{"t":"2026-06-22T04:00","v":31.0},{"t":"2026-06-22T08:00","v":30.6},{"t":"2026-06-22T16:00","v":41.2},{"t":"2026-06-22T20:00","v":35.8},{"t":"2026-06-23T16:00","v":60.4},{"t":"2026-06-23T20:00","v":60.4},{"t":"2026-06-24T00:00","v":65.9},{"t":"2026-06-24T04:00","v":65.9},{"t":"2026-06-24T12:00","v":56.4},{"t":"2026-06-24T16:00","v":56.4},{"t":"2026-06-24T20:00","v":57.1},{"t":"2026-06-25T00:00","v":57.2},{"t":"2026-06-25T04:00","v":61.7},{"t":"2026-06-25T08:00","v":56.4},{"t":"2026-06-25T12:00","v":57.2},{"t":"2026-06-25T16:00","v":57.2},{"t":"2026-06-25T20:00","v":52.4},{"t":"2026-06-26T00:00","v":52.6},{"t":"2026-06-26T08:00","v":44.1},{"t":"2026-06-26T12:00","v":49.2},{"t":"2026-06-26T16:00","v":48.6},{"t":"2026-06-26T20:00","v":48.5},
{"t":"2026-06-28T20:00","v":48.5},{"t":"2026-06-29T00:00","v":48.5},{"t":"2026-06-29T04:00","v":43.2},{"t":"2026-06-29T08:00","v":44.0},{"t":"2026-06-29T12:00","v":44.0},{"t":"2026-06-29T16:00","v":44.7},{"t":"2026-06-29T20:00","v":39.2},{"t":"2026-06-30T00:00","v":45.3},{"t":"2026-06-30T04:00","v":40.0},{"t":"2026-06-30T08:00","v":45.3},{"t":"2026-06-30T12:00","v":45.3},{"t":"2026-06-30T16:00","v":40.0},{"t":"2026-06-30T20:00","v":45.3},{"t":"2026-07-01T04:00","v":45.3},{"t":"2026-07-01T08:00","v":40.6},{"t":"2026-07-01T12:00","v":46.0},{"t":"2026-07-01T16:00","v":40.6},{"t":"2026-07-01T20:00","v":46.0},{"t":"2026-07-02T00:00","v":46.8},{"t":"2026-07-02T04:00","v":51.4},{"t":"2026-07-02T08:00","v":51.4},{"t":"2026-07-02T12:00","v":56.7},{"t":"2026-07-02T16:00","v":51.4},{"t":"2026-07-02T20:00","v":50.9},{"t":"2026-07-03T00:00","v":56.2},{"t":"2026-07-03T04:00","v":56.2},{"t":"2026-07-03T08:00","v":55.4},{"t":"2026-07-03T12:00","v":60.1},{"t":"2026-07-03T16:00","v":59.2},{"t":"2026-07-03T20:00","v":59.1},
{"t":"2026-07-05T20:00","v":58.5},{"t":"2026-07-06T00:00","v":53.3},{"t":"2026-07-06T04:00","v":53.8},{"t":"2026-07-06T16:00","v":40.0},{"t":"2026-07-06T20:00","v":44.5},{"t":"2026-07-07T00:00","v":44.0},{"t":"2026-07-07T08:00","v":34.1},{"t":"2026-07-07T12:00","v":38.6},{"t":"2026-07-07T16:00","v":33.3},{"t":"2026-07-07T20:00","v":38.6},{"t":"2026-07-08T00:00","v":33.3},{"t":"2026-07-08T04:00","v":38.6},{"t":"2026-07-08T08:00","v":38.6},{"t":"2026-07-08T12:00","v":33.3},{"t":"2026-07-09T00:00","v":49.2},{"t":"2026-07-09T04:00","v":49.2},{"t":"2026-07-09T08:00","v":49.2},{"t":"2026-07-09T16:00","v":59.2},{"t":"2026-07-09T20:00","v":59.2},{"t":"2026-07-10T00:00","v":64.6},{"t":"2026-07-10T04:00","v":59.2},{"t":"2026-07-10T08:00","v":59.2},{"t":"2026-07-10T12:00","v":56.5},{"t":"2026-07-10T16:00","v":56.5},{"t":"2026-07-10T20:00","v":62.0},
{"t":"2026-07-12T20:00","v":56.5},{"t":"2026-07-13T04:00","v":46.5},{"t":"2026-07-13T08:00","v":42.8},{"t":"2026-07-13T12:00","v":42.1},{"t":"2026-07-13T20:00","v":32.1},{"t":"2026-07-14T00:00","v":32.1},{"t":"2026-07-14T04:00","v":26.7},{"t":"2026-07-14T12:00","v":36.0},{"t":"2026-07-14T16:00","v":38.9},{"t":"2026-07-14T20:00","v":44.4},{"t":"2026-07-15T00:00","v":38.9},{"t":"2026-07-15T04:00","v":43.6},{"t":"2026-07-15T08:00","v":43.7},{"t":"2026-07-15T12:00","v":48.2},{"t":"2026-07-15T16:00","v":48.2},{"t":"2026-07-15T20:00","v":51.7},{"t":"2026-07-16T04:00","v":51.7},{"t":"2026-07-16T08:00","v":46.4},{"t":"2026-07-16T12:00","v":51.7},{"t":"2026-07-16T16:00","v":47.2},{"t":"2026-07-16T20:00","v":47.6},{"t":"2026-07-17T00:00","v":42.6},{"t":"2026-07-17T04:00","v":43.2},{"t":"2026-07-17T08:00","v":48.5},{"t":"2026-07-17T12:00","v":44.0},{"t":"2026-07-17T16:00","v":43.2},{"t":"2026-07-17T20:00","v":43.9},
{"t":"2026-07-19T20:00","v":43.2},{"t":"2026-07-20T00:00","v":45.0},{"t":"2026-07-20T04:00","v":49.5},{"t":"2026-07-20T12:00","v":49.5},{"t":"2026-07-20T16:00","v":44.5},{"t":"2026-07-20T20:00","v":48.1},{"t":"2026-07-21T00:00","v":43.6},{"t":"2026-07-21T04:00","v":48.1},{"t":"2026-07-21T08:00","v":43.4}
]
},
"layer": [
{"data": {"values": [{"t": "2026-06-24T20:00", "v": 41.8, "label": "Forussignals"}]},
 "mark": {"type": "text", "font": "DejaVu Sans", "fontStyle": "italic", "fontSize": 115, "angle": 20, "align": "center", "baseline": "middle", "fillOpacity": 0, "stroke": "#c4c4c4", "strokeWidth": 2},
 "encoding": {
  "x": {"field": "t", "type": "temporal", "title": "Time", "scale": {"domain": [{"year": 2026, "month": 5, "date": 30, "hours": 12, "minutes": 48}, {"year": 2026, "month": 7, "date": 23, "hours": 19, "minutes": 12}]},
        "axis": {"values": [{"year": 2026, "month": 6, "date": 1}, {"year": 2026, "month": 6, "date": 8}, {"year": 2026, "month": 6, "date": 15}, {"year": 2026, "month": 6, "date": 22}, {"year": 2026, "month": 7, "date": 1}, {"year": 2026, "month": 7, "date": 8}, {"year": 2026, "month": 7, "date": 15}, {"year": 2026, "month": 7, "date": 22}], "format": "%Y-%m-%d", "labelPadding": 5, "titlePadding": 5, "labelFlush": false}},
  "y": {"field": "v", "type": "quantitative", "title": "Score", "scale": {"domain": [0, 100], "nice": false}, "axis": {"values": [0, 20, 40, 60, 80, 100], "labelPadding": 7, "titlePadding": 7}},
  "text": {"field": "label"}
 }},
{"data": {"values": [{"v": 25}, {"v": 45}]},
 "mark": {"type": "rule", "color": "#1f77b4", "strokeDash": [6, 3], "strokeWidth": 1.4},
 "encoding": {"y": {"field": "v", "type": "quantitative", "title": "Score"}}},
{"data": {"name": "adx"}, "mark": {"type": "line", "strokeWidth": 2},
 "encoding": {"x": {"field": "t", "type": "temporal", "title": "Time"}, "y": {"field": "v", "type": "quantitative", "title": "Score"},
  "color": {"datum": "ADX", "scale": {"domain": ["ADX", "+DI", "-DI", "Bull power", "Bear power"], "range": ["#1f77b4", "#ff7f0e", "#2ca02c", "#d62728", "#9467bd"]}, "legend": {"title": null}}}},
{"data": {"name": "pdi"}, "mark": {"type": "line", "strokeWidth": 2},
 "encoding": {"x": {"field": "t", "type": "temporal", "title": "Time"}, "y": {"field": "v", "type": "quantitative", "title": "Score"}, "color": {"datum": "+DI"}}},
{"data": {"name": "mdi"}, "mark": {"type": "line", "strokeWidth": 2},
 "encoding": {"x": {"field": "t", "type": "temporal", "title": "Time"}, "y": {"field": "v", "type": "quantitative", "title": "Score"}, "color": {"datum": "-DI"}}},
{"data": {"name": "bull"}, "mark": {"type": "line", "strokeWidth": 2},
 "encoding": {"x": {"field": "t", "type": "temporal", "title": "Time"}, "y": {"field": "v", "type": "quantitative", "title": "Score"}, "color": {"datum": "Bull power"}}},
{"data": {"name": "bear"}, "mark": {"type": "line", "strokeWidth": 2},
 "encoding": {"x": {"field": "t", "type": "temporal", "title": "Time"}, "y": {"field": "v", "type": "quantitative", "title": "Score"}, "color": {"datum": "Bear power"}}}
]
}
